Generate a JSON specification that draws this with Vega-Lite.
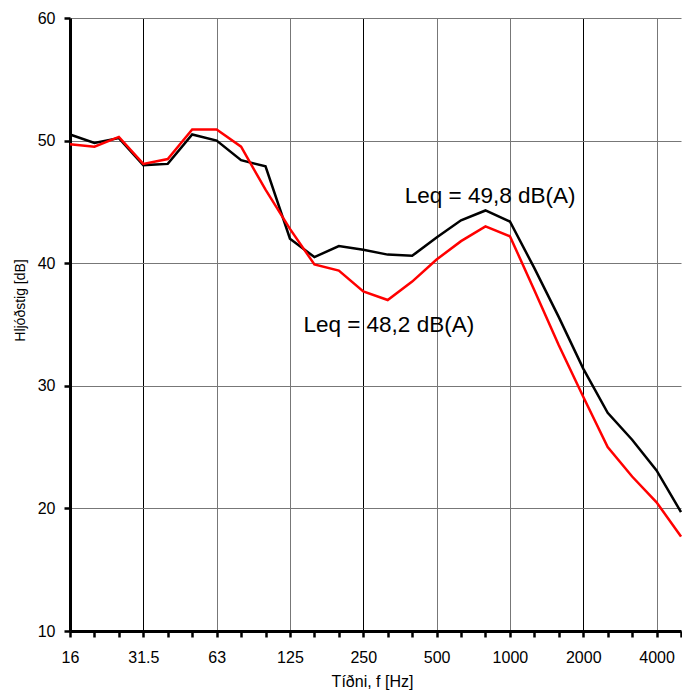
{
  "$schema": "https://vega.github.io/schema/vega-lite/v6.json",
  "width": 611,
  "height": 613,
  "autosize": {"type": "none"},
  "padding": {"left": 70, "top": 18, "right": 1, "bottom": 62},
  "background": "white",
  "config": {
    "font": "Liberation Sans",
    "view": {"stroke": null},
    "axis": {"labelFont": "Liberation Sans", "titleFont": "Liberation Sans", "titleFontWeight": "normal", "labelColor": "black", "titleColor": "black"}
  },
  "datasets": {
    "lines": [
      {"i": 0, "band": "16", "s": "A", "db": 50.5}, {"i": 1, "band": "20", "s": "A", "db": 49.8}, {"i": 2, "band": "25", "s": "A", "db": 50.2},
      {"i": 3, "band": "31.5", "s": "A", "db": 48.0}, {"i": 4, "band": "40", "s": "A", "db": 48.1}, {"i": 5, "band": "50", "s": "A", "db": 50.5},
      {"i": 6, "band": "63", "s": "A", "db": 50.0}, {"i": 7, "band": "80", "s": "A", "db": 48.4}, {"i": 8, "band": "100", "s": "A", "db": 47.9},
      {"i": 9, "band": "125", "s": "A", "db": 42.0}, {"i": 10, "band": "160", "s": "A", "db": 40.5}, {"i": 11, "band": "200", "s": "A", "db": 41.4},
      {"i": 12, "band": "250", "s": "A", "db": 41.1}, {"i": 13, "band": "315", "s": "A", "db": 40.7}, {"i": 14, "band": "400", "s": "A", "db": 40.6},
      {"i": 15, "band": "500", "s": "A", "db": 42.1}, {"i": 16, "band": "630", "s": "A", "db": 43.5}, {"i": 17, "band": "800", "s": "A", "db": 44.3},
      {"i": 18, "band": "1000", "s": "A", "db": 43.4}, {"i": 19, "band": "1250", "s": "A", "db": 39.6}, {"i": 20, "band": "1600", "s": "A", "db": 35.6},
      {"i": 21, "band": "2000", "s": "A", "db": 31.4}, {"i": 22, "band": "2500", "s": "A", "db": 27.8}, {"i": 23, "band": "3150", "s": "A", "db": 25.6},
      {"i": 24, "band": "4000", "s": "A", "db": 23.1}, {"i": 25, "band": "5000", "s": "A", "db": 19.7},
      {"i": 0, "band": "16", "s": "B", "db": 49.7}, {"i": 1, "band": "20", "s": "B", "db": 49.5}, {"i": 2, "band": "25", "s": "B", "db": 50.3},
      {"i": 3, "band": "31.5", "s": "B", "db": 48.1}, {"i": 4, "band": "40", "s": "B", "db": 48.5}, {"i": 5, "band": "50", "s": "B", "db": 50.9},
      {"i": 6, "band": "63", "s": "B", "db": 50.9}, {"i": 7, "band": "80", "s": "B", "db": 49.5}, {"i": 8, "band": "100", "s": "B", "db": 46.0},
      {"i": 9, "band": "125", "s": "B", "db": 42.8}, {"i": 10, "band": "160", "s": "B", "db": 39.9}, {"i": 11, "band": "200", "s": "B", "db": 39.4},
      {"i": 12, "band": "250", "s": "B", "db": 37.7}, {"i": 13, "band": "315", "s": "B", "db": 37.0}, {"i": 14, "band": "400", "s": "B", "db": 38.5},
      {"i": 15, "band": "500", "s": "B", "db": 40.3}, {"i": 16, "band": "630", "s": "B", "db": 41.8}, {"i": 17, "band": "800", "s": "B", "db": 43.0},
      {"i": 18, "band": "1000", "s": "B", "db": 42.2}, {"i": 19, "band": "1250", "s": "B", "db": 37.8}, {"i": 20, "band": "1600", "s": "B", "db": 33.3},
      {"i": 21, "band": "2000", "s": "B", "db": 29.1}, {"i": 22, "band": "2500", "s": "B", "db": 25.0}, {"i": 23, "band": "3150", "s": "B", "db": 22.6},
      {"i": 24, "band": "4000", "s": "B", "db": 20.5}, {"i": 25, "band": "5000", "s": "B", "db": 17.7}
    ],
    "labels": [
      {"i": 13.7, "db": 45.5, "text": "Leq = 49,8 dB(A)"},
      {"i": 9.55, "db": 35.0, "text": "Leq = 48,2 dB(A)"}
    ]
  },
  "encoding": {
    "x": {
      "field": "i", "type": "quantitative",
      "scale": {"domain": [0, 25], "nice": false, "zero": false},
      "axis": {
        "values": [0,1,2,3,4,5,6,7,8,9,10,11,12,13,14,15,16,17,18,19,20,21,22,23,24,25],
        "labelExpr": "datum.value % 3 === 0 ? ['16','31.5','63','125','250','500','1000','2000','4000'][datum.value / 3] : ''",
        "title": "Tíðni, f [Hz]",
        "titleFontSize": 16, "titlePadding": 8, "titleX": 302,
        "labelFontSize": 16, "labelPadding": 12, "labelOverlap": false, "labelFlush": false,
        "domainColor": "black", "domainWidth": 3,
        "tickColor": "black", "tickWidth": 2.5, "tickSize": 6,
        "grid": true, "gridWidth": 1,
        "gridColor": {"condition": {"test": "datum.value % 9 === 3", "value": "#000000"}, "value": "#777777"},
        "gridOpacity": {"condition": {"test": "datum.value % 3 === 0 && datum.value > 0 && datum.value < 25", "value": 1}, "value": 0}
      }
    },
    "y": {
      "field": "db", "type": "quantitative",
      "scale": {"domain": [10, 60], "nice": false, "zero": false},
      "axis": {
        "values": [10, 20, 30, 40, 50, 60],
        "title": "Hljóðstig [dB]",
        "titleFontSize": 14, "titleX": -43, "titleY": 282,
        "labelFontSize": 16, "labelPadding": 9,
        "domainColor": "black", "domainWidth": 3,
        "tickColor": "black", "tickWidth": 2.5, "tickSize": 6,
        "grid": true, "gridColor": "#777777", "gridWidth": 1
      }
    }
  },
  "layer": [
    {
      "data": {"name": "lines"},
      "mark": {"type": "line", "strokeWidth": 2.5},
      "encoding": {
        "color": {
          "field": "s", "type": "nominal",
          "scale": {"domain": ["A", "B"], "range": ["#000000", "#ff0000"]},
          "legend": null
        }
      }
    },
    {
      "data": {"name": "labels"},
      "mark": {"type": "text", "align": "left", "baseline": "middle", "fontSize": 22.5, "font": "Liberation Sans", "color": "black"},
      "encoding": {
        "text": {"field": "text"}
      }
    }
  ]
}
